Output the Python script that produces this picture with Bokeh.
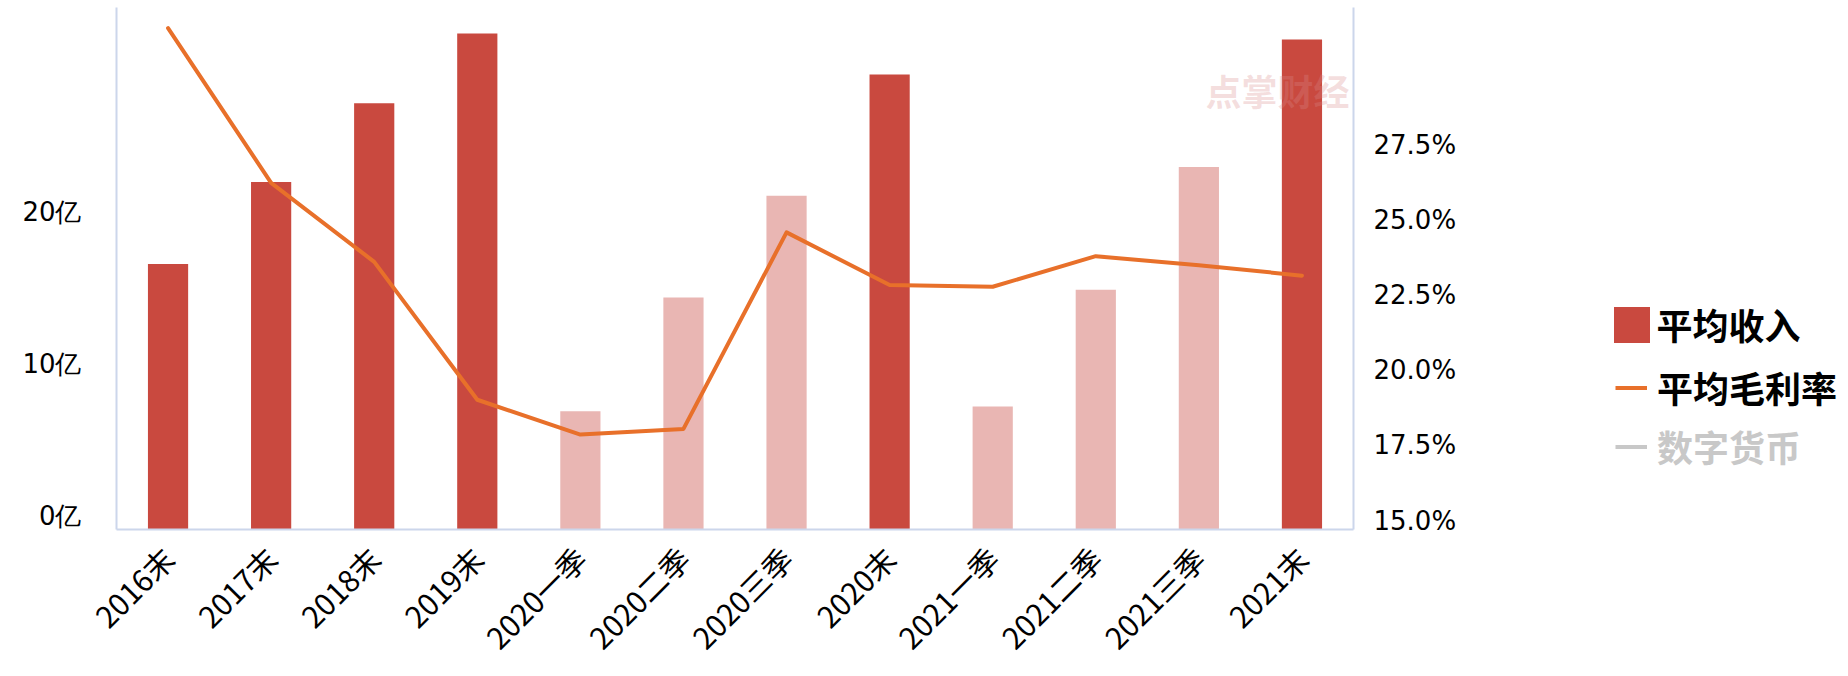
import math
from bokeh.plotting import figure
from bokeh.layouts import row
from bokeh.models import (Range1d, LinearAxis, FactorRange, FixedTicker, PrintfTickFormatter,
                          NumeralTickFormatter, Legend, LegendItem, ColumnDataSource, Label)
from bokeh.embed import file_html
from bokeh.resources import INLINE

# ---------------- data ----------------
categories = ["2016末", "2017末", "2018末", "2019末", "2020一季", "2020二季", "2020三季",
              "2020末", "2021一季", "2021二季", "2021三季", "2021末"]
revenue = [17.5, 22.9, 28.1, 32.7, 7.8, 15.3, 22.0, 30.0, 8.1, 15.8, 23.9, 32.3]          # 亿
gross_margin = [0.3139, 0.2624, 0.2361, 0.1902, 0.1786, 0.1805, 0.2459, 0.2284,
                0.2278, 0.2380, 0.2350, 0.2315]
revenue_ticks = [0, 10, 20]
margin_ticks = [0.15, 0.175, 0.20, 0.225, 0.25, 0.275]
series_names = ["平均收入", "平均毛利率", "数字货币"]

# ---------------- style ----------------
DARK = "#C9493F"
LIGHT = "#E9B6B3"
ORANGE = "#E8702A"
GREY = "#C8C8C8"
AXIS = "#CCD6EB"
bar_colors = [DARK if c.endswith("末") else LIGHT for c in categories]

src = ColumnDataSource(dict(cat=categories, rev=revenue, gm=gross_margin, color=bar_colors))

# ---------------- main chart ----------------
p = figure(x_range=FactorRange(*categories), y_range=Range1d(0, 34.41),
           width=1460, height=676, output_backend="svg", toolbar_location=None,
           y_axis_location=None,
           min_border_left=116, min_border_right=107, min_border_top=7, min_border_bottom=146)
p.outline_line_color = None
p.xgrid.visible = False
p.ygrid.visible = False

# shifted range only for label placement of the left axis (labels sit just above their ticks)
p.extra_y_ranges = {"lab": Range1d(-0.92, 34.41 - 0.92),
                    "pct": Range1d(0.14701, 0.32076)}

xa = p.xaxis[0]
xa.axis_line_color = AXIS
xa.axis_line_width = 2
xa.major_tick_line_color = None
xa.minor_tick_line_color = None
xa.major_label_orientation = math.pi / 4
xa.major_label_text_font = "Noto Sans CJK SC"
xa.major_label_text_font_size = "30px"
xa.major_label_text_color = "#000000"
xa.major_label_standoff = 17

la = LinearAxis(y_range_name="lab", ticker=FixedTicker(ticks=revenue_ticks),
                formatter=PrintfTickFormatter(format="%d亿"))
ra = LinearAxis(y_range_name="pct", ticker=FixedTicker(ticks=margin_ticks),
                formatter=NumeralTickFormatter(format="0.0%"))
for ax, so in ((la, 29), (ra, 14)):
    ax.axis_line_color = AXIS
    ax.axis_line_width = 2
    ax.major_tick_line_color = None
    ax.minor_tick_line_color = None
    ax.major_label_text_font = "DejaVu Sans"
    ax.major_label_text_font_size = "26px"
    ax.major_label_text_color = "#000000"
    ax.major_label_standoff = so
p.add_layout(la, "left")
p.add_layout(ra, "right")

# watermark
p.add_layout(Label(x=1089, y=440, x_units="screen", y_units="screen", text="点掌财经",
                   text_font="Noto Sans CJK SC", text_font_style="bold", text_font_size="36px",
                   text_color="#D88A8A", text_alpha=0.28, text_baseline="middle"))

p.vbar(x="cat", top="rev", width=0.39, fill_color="color", line_color=None, source=src)
p.line(x="cat", y="gm", y_range_name="pct", line_color=ORANGE, line_width=4,
       line_cap="round", line_join="round", source=src)

# ---------------- legend panel ----------------
q = figure(width=388, height=676, output_backend="svg", toolbar_location=None,
           x_range=Range1d(0, 1), y_range=Range1d(0, 1),
           x_axis_location=None, y_axis_location=None,
           min_border_left=0, min_border_right=0, min_border_top=7, min_border_bottom=146)
q.outline_line_color = None
q.xgrid.visible = False
q.ygrid.visible = False
nan = float("nan")
k_bar = q.vbar(x=[0.5], top=[nan], width=0.1, fill_color=DARK, line_color=None)
k_line = q.line(x=[0.5], y=[nan], line_color=ORANGE, line_width=4)
k_grey = q.line(x=[0.5], y=[nan], line_color=GREY, line_width=4)

specs = [(series_names[0], k_bar, "#000000", 45, 3, (148.5, 178)),
         (series_names[1], k_line, "#000000", 32, 10, (155, 115)),
         (series_names[2], k_grey, GREY, 32, 10, (155, 56))]
for name, rend, col, gw, so, loc in specs:
    lg = Legend(items=[LegendItem(label=name, renderers=[rend])], location=loc)
    lg.label_text_font = "Noto Sans CJK SC"
    lg.label_text_font_style = "bold"
    lg.label_text_font_size = "36px"
    lg.label_text_color = col
    lg.glyph_width = gw
    lg.glyph_height = 45
    lg.label_height = 54
    lg.label_standoff = so
    lg.padding = 0
    lg.margin = 0
    lg.border_line_color = None
    lg.background_fill_alpha = 0
    q.add_layout(lg, "center")

open("out.html", "w").write(file_html(row(p, q), INLINE))
